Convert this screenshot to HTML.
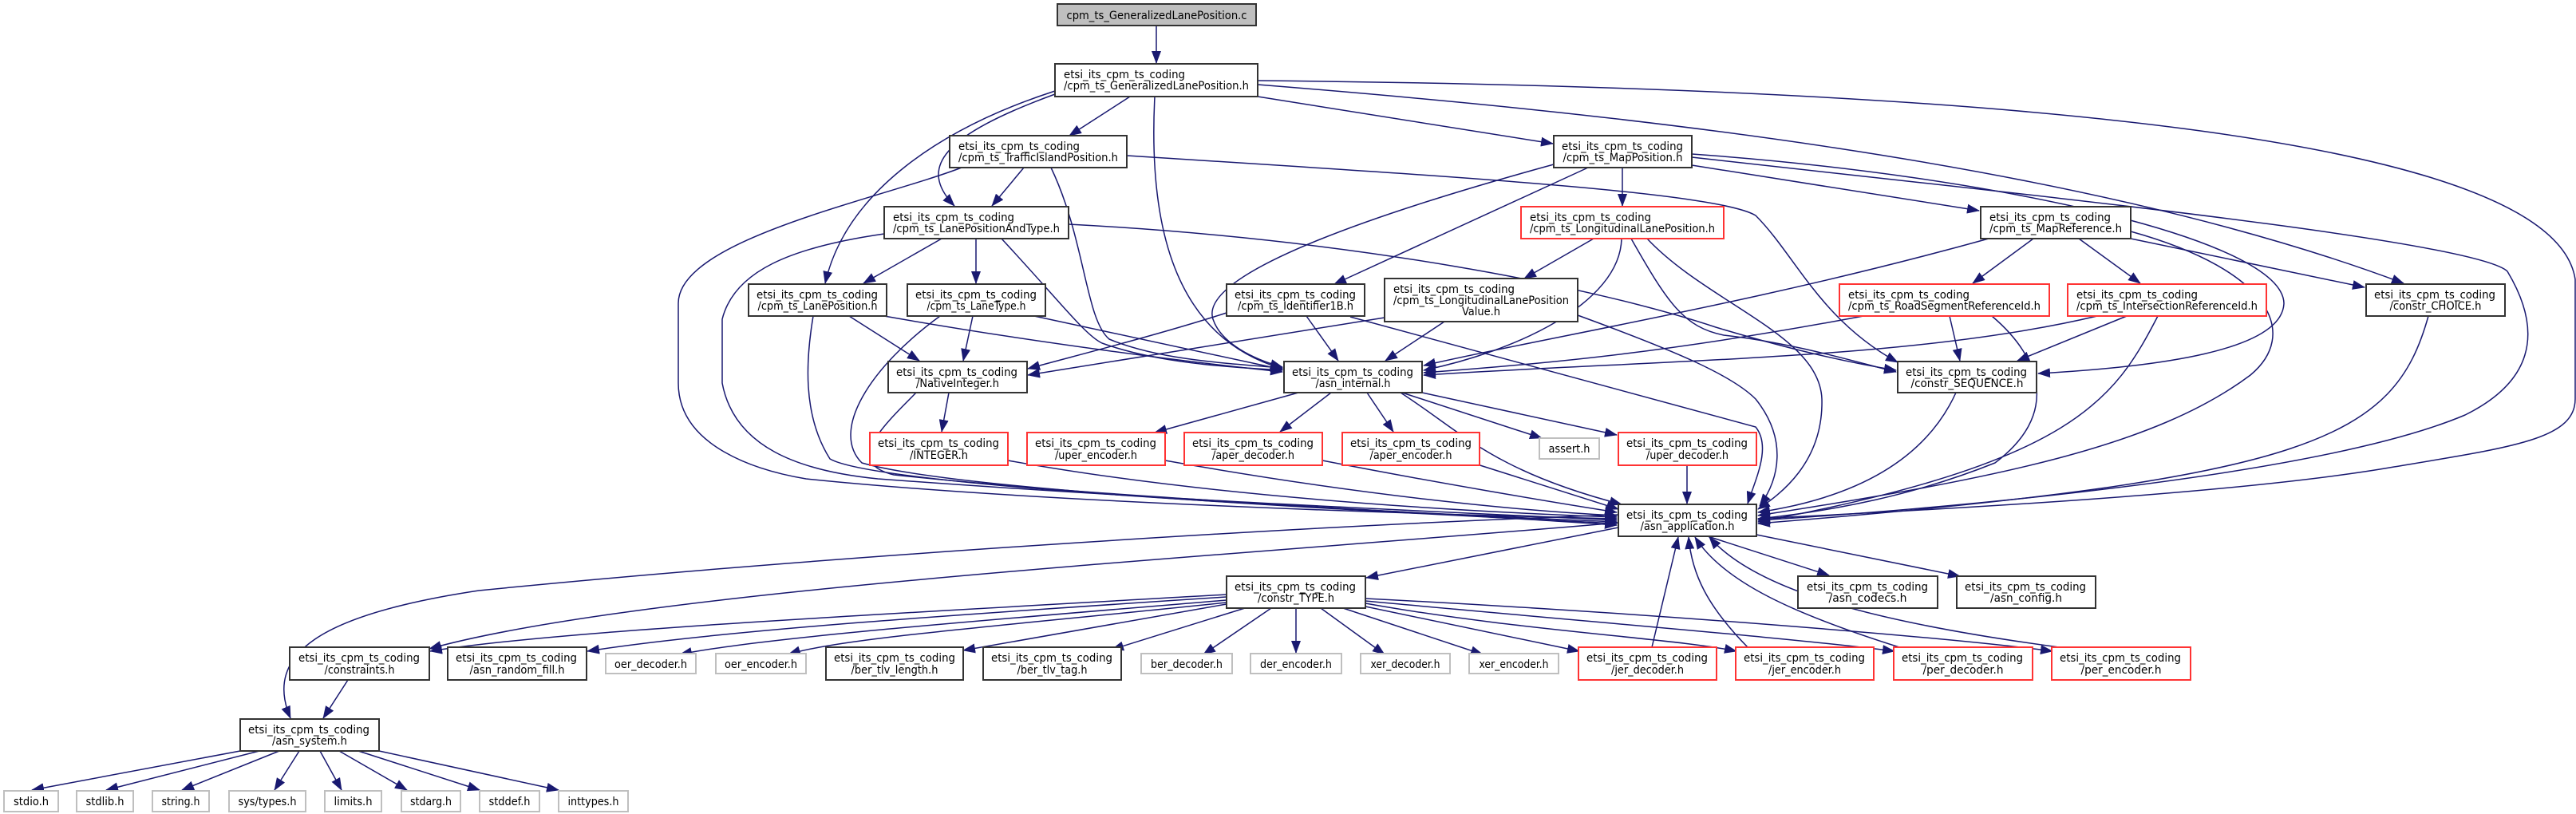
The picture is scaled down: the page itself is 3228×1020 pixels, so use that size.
<!DOCTYPE html>
<html><head><meta charset="utf-8"><style>
html,body{margin:0;padding:0;background:#fff;}
svg{display:block;}
text{font-family:"DejaVu Sans Condensed","Liberation Sans Narrow","Liberation Sans",sans-serif;font-size:14px;fill:#000;}
.b{fill:#fff;stroke:#333;stroke-width:2;}
.r{fill:#fff;stroke:#f33;stroke-width:2;}
.g{fill:#fff;stroke:#bfbfbf;stroke-width:2;}
.e{fill:none;stroke:#191970;stroke-width:1.5;marker-end:url(#a);}
</style></head><body>
<svg width="3228" height="1020" viewBox="0 0 3228 1020" xmlns="http://www.w3.org/2000/svg">
<defs><marker id="a" markerUnits="userSpaceOnUse" markerWidth="16" markerHeight="12" refX="15" refY="6" orient="auto"><path d="M0,0 L16,6 L0,12 z" fill="#191970"/></marker></defs>
<g>
<path class="e" d="M1449,32 L1449,79"/>
<path class="e" d="M1416,121 L1340,170"/>
<path class="e" d="M1576,121 L1946,180"/>
<path class="e" d="M1447,121 C1440,260 1460,420 1607,462"/>
<path class="e" d="M1322,114 C1180,160 1060,240 1034,355"/>
<path class="e" d="M1322,118 C1180,170 1150,210 1196,258"/>
<path class="e" d="M1576,106 C2000,140 2600,200 3012,355"/>
<path class="e" d="M1576,101 C2500,110 3200,170 3227,350 L3227,500 C3227,550 3150,560 3000,585 C2800,620 2400,640 2203,650"/>
<path class="e" d="M2120,193 C2500,220 2860,300 2862,380 C2860,440 2700,460 2554,468"/>
<path class="e" d="M2120,197 C2500,240 3100,300 3142,340 C3190,420 3170,480 3089,520 C2900,600 2400,640 2203,652"/>
<path class="e" d="M2120,207 L2480,264"/>
<path class="e" d="M1412,195 C1800,220 2150,240 2200,270 C2250,320 2280,400 2378,454"/>
<path class="e" d="M2670,290 C2850,340 2880,420 2820,470 C2700,560 2500,600 2203,646"/>
<path class="e" d="M1339,281 C1700,300 2000,360 2150,410 C2250,440 2320,455 2376,464"/>
<path class="e" d="M1947,206 C1750,260 1500,340 1520,400 C1530,430 1570,450 1607,460"/>
<path class="e" d="M1990,210 L1672,356"/>
<path class="e" d="M2033,210 L2033,258"/>
<path class="e" d="M1997,299 L1910,349"/>
<path class="e" d="M2032,299 C2030,380 1900,440 1784,464"/>
<path class="e" d="M2044,299 C2090,380 2110,410 2160,420 C2250,430 2330,455 2376,466"/>
<path class="e" d="M2064,299 C2140,380 2280,420 2283,500 C2285,580 2230,620 2203,638"/>
<path class="e" d="M1537,392 C1450,420 1350,445 1288,462"/>
<path class="e" d="M1637,396 L1677,452"/>
<path class="e" d="M1692,397 L2200,535 C2220,560 2200,600 2190,631"/>
<path class="e" d="M1735,398 L1288,470"/>
<path class="e" d="M1810,403 L1736,452"/>
<path class="e" d="M1977,395 C2100,440 2170,470 2200,500 C2240,550 2230,600 2205,634"/>
<path class="e" d="M1064,396 L1152,452"/>
<path class="e" d="M1108,396 C1300,430 1500,455 1607,466"/>
<path class="e" d="M1223,299 L1223,355"/>
<path class="e" d="M1180,299 L1082,355"/>
<path class="e" d="M1255,299 C1330,380 1360,420 1381,430 C1450,455 1540,460 1607,464"/>
<path class="e" d="M1219,396 L1207,452"/>
<path class="e" d="M1296,396 L1607,463"/>
<path class="e" d="M1283,210 L1243,258"/>
<path class="e" d="M1317,210 C1360,300 1360,400 1390,425 C1450,450 1530,455 1607,461"/>
<path class="e" d="M1205,210 C1100,250 850,300 850,380 L850,480 C850,560 950,590 1010,600 C1300,630 1800,645 2026,650"/>
<path class="e" d="M1108,293 C990,310 920,340 905,400 L905,480 C920,560 1000,590 1100,600 C1500,630 1900,645 2026,652"/>
<path class="e" d="M1019,396 C1010,450 1005,520 1040,575 C1100,610 1700,640 2026,654"/>
<path class="e" d="M1178,396 C1090,460 1040,540 1080,580 C1200,615 1700,640 2026,656"/>
<path class="e" d="M1148,492 C1100,540 1060,580 1120,595 C1400,625 1800,642 2026,658"/>
<path class="e" d="M2492,299 C2200,380 1950,420 1784,458"/>
<path class="e" d="M2548,299 L2472,355"/>
<path class="e" d="M2605,299 L2682,355"/>
<path class="e" d="M2670,299 L2963,360"/>
<path class="e" d="M2335,396 C2100,440 1950,455 1784,467"/>
<path class="e" d="M2443,396 L2456,452"/>
<path class="e" d="M2496,396 C2560,450 2580,520 2500,580 C2400,620 2300,640 2203,650"/>
<path class="e" d="M2628,396 C2400,450 2100,450 1784,470"/>
<path class="e" d="M2665,396 L2528,452"/>
<path class="e" d="M2704,396 C2650,500 2600,580 2203,654"/>
<path class="e" d="M3043,396 C3000,550 2900,600 2203,656"/>
<path class="e" d="M2451,492 C2420,560 2350,620 2203,642"/>
<path class="e" d="M1189,492 L1180,541"/>
<path class="e" d="M1263,577 C1500,620 1800,640 2026,648"/>
<path class="e" d="M1460,577 C1700,620 1900,640 2026,646"/>
<path class="e" d="M1657,577 C1800,605 1950,630 2026,642"/>
<path class="e" d="M1845,580 L2028,638"/>
<path class="e" d="M1627,492 L1447,542"/>
<path class="e" d="M1668,492 L1604,541"/>
<path class="e" d="M1713,492 L1746,541"/>
<path class="e" d="M1757,492 L1932,549"/>
<path class="e" d="M1782,492 L2026,545"/>
<path class="e" d="M1755,492 C1830,540 1870,590 2032,632"/>
<path class="e" d="M2114,583 L2114,631"/>
<path class="e" d="M2028,661 L1712,724"/>
<path class="e" d="M2140,672 L2292,721"/>
<path class="e" d="M2201,670 L2456,722"/>
<path class="e" d="M2028,655 C1500,700 800,740 538,813"/>
<path class="e" d="M2028,645 C1600,660 1000,700 600,740 C400,770 330,820 364,900"/>
<path class="e" d="M1537,745 C1100,770 700,790 539,816"/>
<path class="e" d="M1537,748 C1200,770 900,790 736,816"/>
<path class="e" d="M1537,752 C1200,780 950,800 852,820"/>
<path class="e" d="M1537,755 C1250,785 1050,800 988,820"/>
<path class="e" d="M1537,757 L1207,815"/>
<path class="e" d="M1560,762 L1393,814"/>
<path class="e" d="M1593,762 L1508,820"/>
<path class="e" d="M1624,762 L1624,818"/>
<path class="e" d="M1655,762 L1735,820"/>
<path class="e" d="M1683,762 L1858,820"/>
<path class="e" d="M1711,760 L1979,816"/>
<path class="e" d="M1711,756 C1900,790 2100,800 2176,816"/>
<path class="e" d="M1711,753 C2000,780 2250,800 2374,816"/>
<path class="e" d="M1711,750 C2100,770 2450,800 2572,816"/>
<path class="e" d="M2070,811 L2103,673"/>
<path class="e" d="M2190,811 C2140,760 2120,720 2116,673"/>
<path class="e" d="M2380,811 C2250,770 2160,730 2124,673"/>
<path class="e" d="M2580,811 C2350,780 2200,740 2142,673"/>
<path class="e" d="M436,852 L405,900"/>
<path class="e" d="M301,941 L40,990"/>
<path class="e" d="M325,941 L133,990"/>
<path class="e" d="M350,941 L228,990"/>
<path class="e" d="M375,941 L344,990"/>
<path class="e" d="M401,941 L428,990"/>
<path class="e" d="M425,941 L510,990"/>
<path class="e" d="M449,941 L601,990"/>
<path class="e" d="M475,941 L700,990"/>
</g>
<g>
<rect x="1325" y="5" width="249" height="27" fill="#bfbfbf" stroke="#333" stroke-width="2"/><text x="1449.5" y="24" text-anchor="middle" textLength="226" lengthAdjust="spacingAndGlyphs">cpm_ts_GeneralizedLanePosition.c</text>

<rect class="b" x="1322" y="80" width="254" height="41"/><text x="1333" y="98" textLength="152" lengthAdjust="spacingAndGlyphs">etsi_its_cpm_ts_coding</text><text x="1449" y="112" text-anchor="middle" textLength="232" lengthAdjust="spacingAndGlyphs">/cpm_ts_GeneralizedLanePosition.h</text>

<rect class="b" x="1190" y="170" width="222" height="40"/><text x="1201" y="188" textLength="152" lengthAdjust="spacingAndGlyphs">etsi_its_cpm_ts_coding</text><text x="1301" y="202" text-anchor="middle" textLength="200" lengthAdjust="spacingAndGlyphs">/cpm_ts_TrafficIslandPosition.h</text>

<rect class="b" x="1947" y="170" width="173" height="40"/><text x="1957" y="188" textLength="152" lengthAdjust="spacingAndGlyphs">etsi_its_cpm_ts_coding</text><text x="2033.5" y="202" text-anchor="middle" textLength="150" lengthAdjust="spacingAndGlyphs">/cpm_ts_MapPosition.h</text>

<rect class="b" x="1108" y="259" width="231" height="40"/><text x="1119" y="277" textLength="152" lengthAdjust="spacingAndGlyphs">etsi_its_cpm_ts_coding</text><text x="1223.5" y="291" text-anchor="middle" textLength="209" lengthAdjust="spacingAndGlyphs">/cpm_ts_LanePositionAndType.h</text>

<rect class="r" x="1906" y="259" width="254" height="40"/><text x="1917" y="277" textLength="152" lengthAdjust="spacingAndGlyphs">etsi_its_cpm_ts_coding</text><text x="2033" y="291" text-anchor="middle" textLength="232" lengthAdjust="spacingAndGlyphs">/cpm_ts_LongitudinalLanePosition.h</text>

<rect class="b" x="2482" y="259" width="188" height="40"/><text x="2493" y="277" textLength="152" lengthAdjust="spacingAndGlyphs">etsi_its_cpm_ts_coding</text><text x="2576" y="291" text-anchor="middle" textLength="166" lengthAdjust="spacingAndGlyphs">/cpm_ts_MapReference.h</text>

<rect class="b" x="938" y="356" width="173" height="40"/><text x="948" y="374" textLength="152" lengthAdjust="spacingAndGlyphs">etsi_its_cpm_ts_coding</text><text x="1024.5" y="388" text-anchor="middle" textLength="150" lengthAdjust="spacingAndGlyphs">/cpm_ts_LanePosition.h</text>

<rect class="b" x="1137" y="356" width="173" height="40"/><text x="1147" y="374" textLength="152" lengthAdjust="spacingAndGlyphs">etsi_its_cpm_ts_coding</text><text x="1223.5" y="388" text-anchor="middle" textLength="124" lengthAdjust="spacingAndGlyphs">/cpm_ts_LaneType.h</text>

<rect class="b" x="1537" y="356" width="173" height="40"/><text x="1547" y="374" textLength="152" lengthAdjust="spacingAndGlyphs">etsi_its_cpm_ts_coding</text><text x="1623.5" y="388" text-anchor="middle" textLength="145" lengthAdjust="spacingAndGlyphs">/cpm_ts_Identifier1B.h</text>

<rect class="b" x="1735" y="349" width="242" height="54"/><text x="1746" y="367" textLength="152" lengthAdjust="spacingAndGlyphs">etsi_its_cpm_ts_coding</text><text x="1856" y="381" text-anchor="middle" textLength="220" lengthAdjust="spacingAndGlyphs">/cpm_ts_LongitudinalLanePosition</text><text x="1856" y="395" text-anchor="middle" textLength="48" lengthAdjust="spacingAndGlyphs">Value.h</text>

<rect class="r" x="2305" y="356" width="263" height="40"/><text x="2316" y="374" textLength="152" lengthAdjust="spacingAndGlyphs">etsi_its_cpm_ts_coding</text><text x="2436.5" y="388" text-anchor="middle" textLength="241" lengthAdjust="spacingAndGlyphs">/cpm_ts_RoadSegmentReferenceId.h</text>

<rect class="r" x="2591" y="356" width="249" height="40"/><text x="2602" y="374" textLength="152" lengthAdjust="spacingAndGlyphs">etsi_its_cpm_ts_coding</text><text x="2715.5" y="388" text-anchor="middle" textLength="227" lengthAdjust="spacingAndGlyphs">/cpm_ts_IntersectionReferenceId.h</text>

<rect class="b" x="2965" y="356" width="174" height="40"/><text x="2975" y="374" textLength="152" lengthAdjust="spacingAndGlyphs">etsi_its_cpm_ts_coding</text><text x="3052" y="388" text-anchor="middle" textLength="115" lengthAdjust="spacingAndGlyphs">/constr_CHOICE.h</text>

<rect class="b" x="1113" y="453" width="174" height="39"/><text x="1123" y="471" textLength="152" lengthAdjust="spacingAndGlyphs">etsi_its_cpm_ts_coding</text><text x="1200" y="485" text-anchor="middle" textLength="104" lengthAdjust="spacingAndGlyphs">/NativeInteger.h</text>

<rect class="b" x="1609" y="453" width="173" height="39"/><text x="1619" y="471" textLength="152" lengthAdjust="spacingAndGlyphs">etsi_its_cpm_ts_coding</text><text x="1695.5" y="485" text-anchor="middle" textLength="94" lengthAdjust="spacingAndGlyphs">/asn_internal.h</text>

<rect class="b" x="2378" y="453" width="174" height="39"/><text x="2388" y="471" textLength="152" lengthAdjust="spacingAndGlyphs">etsi_its_cpm_ts_coding</text><text x="2465" y="485" text-anchor="middle" textLength="141" lengthAdjust="spacingAndGlyphs">/constr_SEQUENCE.h</text>

<rect class="r" x="1090" y="542" width="173" height="41"/><text x="1100" y="560" textLength="152" lengthAdjust="spacingAndGlyphs">etsi_its_cpm_ts_coding</text><text x="1176.5" y="575" text-anchor="middle" textLength="73" lengthAdjust="spacingAndGlyphs">/INTEGER.h</text>

<rect class="r" x="1287" y="542" width="173" height="41"/><text x="1297" y="560" textLength="152" lengthAdjust="spacingAndGlyphs">etsi_its_cpm_ts_coding</text><text x="1373.5" y="575" text-anchor="middle" textLength="103" lengthAdjust="spacingAndGlyphs">/uper_encoder.h</text>

<rect class="r" x="1484" y="542" width="173" height="41"/><text x="1494" y="560" textLength="152" lengthAdjust="spacingAndGlyphs">etsi_its_cpm_ts_coding</text><text x="1570.5" y="575" text-anchor="middle" textLength="103" lengthAdjust="spacingAndGlyphs">/aper_decoder.h</text>

<rect class="r" x="1682" y="542" width="172" height="41"/><text x="1692" y="560" textLength="152" lengthAdjust="spacingAndGlyphs">etsi_its_cpm_ts_coding</text><text x="1768" y="575" text-anchor="middle" textLength="103" lengthAdjust="spacingAndGlyphs">/aper_encoder.h</text>

<rect class="g" x="1929" y="549" width="75" height="26"/><text x="1966.5" y="567" text-anchor="middle" textLength="52" lengthAdjust="spacingAndGlyphs">assert.h</text>

<rect class="r" x="2028" y="542" width="173" height="41"/><text x="2038" y="560" textLength="152" lengthAdjust="spacingAndGlyphs">etsi_its_cpm_ts_coding</text><text x="2114.5" y="575" text-anchor="middle" textLength="103" lengthAdjust="spacingAndGlyphs">/uper_decoder.h</text>

<rect class="b" x="2028" y="632" width="173" height="40"/><text x="2038" y="650" textLength="152" lengthAdjust="spacingAndGlyphs">etsi_its_cpm_ts_coding</text><text x="2114.5" y="664" text-anchor="middle" textLength="118" lengthAdjust="spacingAndGlyphs">/asn_application.h</text>

<rect class="b" x="1537" y="722" width="174" height="40"/><text x="1547" y="740" textLength="152" lengthAdjust="spacingAndGlyphs">etsi_its_cpm_ts_coding</text><text x="1624" y="754" text-anchor="middle" textLength="96" lengthAdjust="spacingAndGlyphs">/constr_TYPE.h</text>

<rect class="b" x="2253" y="722" width="175" height="40"/><text x="2264" y="740" textLength="152" lengthAdjust="spacingAndGlyphs">etsi_its_cpm_ts_coding</text><text x="2340.5" y="754" text-anchor="middle" textLength="98" lengthAdjust="spacingAndGlyphs">/asn_codecs.h</text>

<rect class="b" x="2452" y="722" width="174" height="40"/><text x="2462" y="740" textLength="152" lengthAdjust="spacingAndGlyphs">etsi_its_cpm_ts_coding</text><text x="2539" y="754" text-anchor="middle" textLength="90" lengthAdjust="spacingAndGlyphs">/asn_config.h</text>

<rect class="b" x="363" y="811" width="175" height="41"/><text x="374" y="829" textLength="152" lengthAdjust="spacingAndGlyphs">etsi_its_cpm_ts_coding</text><text x="450.5" y="844" text-anchor="middle" textLength="88" lengthAdjust="spacingAndGlyphs">/constraints.h</text>

<rect class="b" x="561" y="811" width="174" height="41"/><text x="571" y="829" textLength="152" lengthAdjust="spacingAndGlyphs">etsi_its_cpm_ts_coding</text><text x="648" y="844" text-anchor="middle" textLength="119" lengthAdjust="spacingAndGlyphs">/asn_random_fill.h</text>

<rect class="g" x="759" y="819" width="113" height="25"/><text x="815.5" y="837" text-anchor="middle" textLength="91" lengthAdjust="spacingAndGlyphs">oer_decoder.h</text>
<rect class="g" x="897" y="819" width="113" height="25"/><text x="953.5" y="837" text-anchor="middle" textLength="91" lengthAdjust="spacingAndGlyphs">oer_encoder.h</text>

<rect class="b" x="1035" y="811" width="172" height="41"/><text x="1045" y="829" textLength="152" lengthAdjust="spacingAndGlyphs">etsi_its_cpm_ts_coding</text><text x="1121" y="844" text-anchor="middle" textLength="109" lengthAdjust="spacingAndGlyphs">/ber_tlv_length.h</text>

<rect class="b" x="1232" y="811" width="173" height="41"/><text x="1242" y="829" textLength="152" lengthAdjust="spacingAndGlyphs">etsi_its_cpm_ts_coding</text><text x="1318.5" y="844" text-anchor="middle" textLength="88" lengthAdjust="spacingAndGlyphs">/ber_tlv_tag.h</text>

<rect class="g" x="1430" y="819" width="114" height="25"/><text x="1487" y="837" text-anchor="middle" textLength="90" lengthAdjust="spacingAndGlyphs">ber_decoder.h</text>
<rect class="g" x="1567" y="819" width="114" height="25"/><text x="1624" y="837" text-anchor="middle" textLength="90" lengthAdjust="spacingAndGlyphs">der_encoder.h</text>
<rect class="g" x="1705" y="819" width="112" height="25"/><text x="1761" y="837" text-anchor="middle" textLength="87" lengthAdjust="spacingAndGlyphs">xer_decoder.h</text>
<rect class="g" x="1841" y="819" width="112" height="25"/><text x="1897" y="837" text-anchor="middle" textLength="87" lengthAdjust="spacingAndGlyphs">xer_encoder.h</text>

<rect class="r" x="1978" y="811" width="173" height="41"/><text x="1988" y="829" textLength="152" lengthAdjust="spacingAndGlyphs">etsi_its_cpm_ts_coding</text><text x="2064.5" y="844" text-anchor="middle" textLength="91" lengthAdjust="spacingAndGlyphs">/jer_decoder.h</text>

<rect class="r" x="2175" y="811" width="173" height="41"/><text x="2185" y="829" textLength="152" lengthAdjust="spacingAndGlyphs">etsi_its_cpm_ts_coding</text><text x="2261.5" y="844" text-anchor="middle" textLength="91" lengthAdjust="spacingAndGlyphs">/jer_encoder.h</text>

<rect class="r" x="2373" y="811" width="174" height="41"/><text x="2383" y="829" textLength="152" lengthAdjust="spacingAndGlyphs">etsi_its_cpm_ts_coding</text><text x="2460" y="844" text-anchor="middle" textLength="101" lengthAdjust="spacingAndGlyphs">/per_decoder.h</text>

<rect class="r" x="2571" y="811" width="174" height="41"/><text x="2581" y="829" textLength="152" lengthAdjust="spacingAndGlyphs">etsi_its_cpm_ts_coding</text><text x="2658" y="844" text-anchor="middle" textLength="101" lengthAdjust="spacingAndGlyphs">/per_encoder.h</text>

<rect class="b" x="301" y="901" width="174" height="40"/><text x="311" y="919" textLength="152" lengthAdjust="spacingAndGlyphs">etsi_its_cpm_ts_coding</text><text x="388" y="933" text-anchor="middle" textLength="94" lengthAdjust="spacingAndGlyphs">/asn_system.h</text>

<rect class="g" x="5" y="991" width="68" height="26"/><text x="39" y="1009" text-anchor="middle" textLength="44" lengthAdjust="spacingAndGlyphs">stdio.h</text>
<rect class="g" x="96" y="991" width="71" height="26"/><text x="131.5" y="1009" text-anchor="middle" textLength="48" lengthAdjust="spacingAndGlyphs">stdlib.h</text>
<rect class="g" x="191" y="991" width="71" height="26"/><text x="226.5" y="1009" text-anchor="middle" textLength="48" lengthAdjust="spacingAndGlyphs">string.h</text>
<rect class="g" x="287" y="991" width="96" height="26"/><text x="335" y="1009" text-anchor="middle" textLength="73" lengthAdjust="spacingAndGlyphs">sys/types.h</text>
<rect class="g" x="407" y="991" width="71" height="26"/><text x="442.5" y="1009" text-anchor="middle" textLength="48" lengthAdjust="spacingAndGlyphs">limits.h</text>
<rect class="g" x="503" y="991" width="74" height="26"/><text x="540" y="1009" text-anchor="middle" textLength="52" lengthAdjust="spacingAndGlyphs">stdarg.h</text>
<rect class="g" x="601" y="991" width="75" height="26"/><text x="638.5" y="1009" text-anchor="middle" textLength="52" lengthAdjust="spacingAndGlyphs">stddef.h</text>
<rect class="g" x="700" y="991" width="87" height="26"/><text x="743.5" y="1009" text-anchor="middle" textLength="64" lengthAdjust="spacingAndGlyphs">inttypes.h</text>
</g>
</svg>
</body></html>
